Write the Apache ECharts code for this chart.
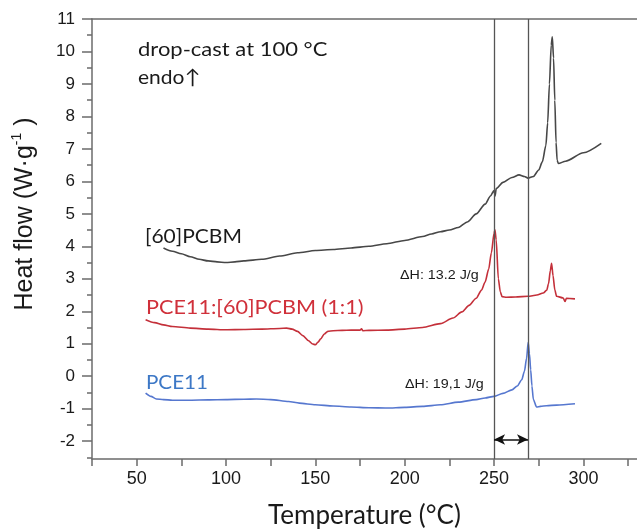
<!DOCTYPE html>
<html>
<head>
<meta charset="utf-8">
<script src="https://cdn.jsdelivr.net/npm/echarts@6/dist/echarts.min.js"></script>
<style>
  html, body { margin: 0; padding: 0; background: #fff; }
  #chart { width: 637px; height: 529px; }
</style>
</head>
<body>
<div id="chart"></div>
<script>
// tick values
var xTicks = [25, 50, 75, 100, 125, 150, 175, 200, 225, 250, 275, 300, 325];
var xLabels = [50, 100, 150, 200, 250, 300];
var yLabels = [-2, -1, 0, 1, 2, 3, 4, 5, 6, 7, 8, 9, 10, 11];
var yMinor = [-2.5, -1.5, -0.5, 0.5, 1.5, 2.5, 3.5, 4.5, 5.5, 6.5, 7.5, 8.5, 9.5, 10.5];

// [60]PCBM
var pcbmT = [65, 70, 75, 80, 85, 90, 95, 100, 105, 110, 120, 130, 140, 150, 160, 170, 180, 190, 200, 210, 215, 220, 225, 230, 235, 240, 245, 248, 250, 250.6, 251.2, 255, 260, 264, 267, 269, 272, 275, 277, 279, 280, 281, 282, 282.6, 283.3, 284, 284.7, 285.3, 286, 290, 300, 310];
var pcbmV = [3.95, 3.85, 3.77, 3.68, 3.6, 3.55, 3.52, 3.5, 3.52, 3.55, 3.6, 3.7, 3.8, 3.87, 3.9, 3.95, 4.0, 4.08, 4.18, 4.3, 4.38, 4.45, 4.5, 4.58, 4.75, 5.0, 5.3, 5.55, 5.72, 5.55, 5.78, 5.97, 6.12, 6.2, 6.15, 6.1, 6.15, 6.35, 6.6, 7.1, 7.8, 9.0, 10.2, 10.45, 9.8, 8.5, 7.2, 6.65, 6.55, 6.62, 6.88, 7.17];

// PCE11:[60]PCBM (1:1)
var blendT = [55, 60, 65, 70, 80, 90, 100, 110, 120, 130, 134, 137, 140, 143, 146, 148.5, 150, 151.5, 153, 155, 157, 160, 165, 170, 175, 175.8, 176.6, 180, 190, 200, 210, 220, 227, 232, 236, 240, 243, 245, 247, 248.5, 250, 250.5, 251.2, 252.4, 253.5, 254.5, 257, 262, 269, 274, 277.5, 279.5, 280.5, 281.5, 282.2, 283, 284, 285, 288.7, 289.7, 290.5, 295.3];
var blendV = [1.74, 1.65, 1.58, 1.53, 1.48, 1.45, 1.43, 1.44, 1.45, 1.47, 1.48, 1.45, 1.38, 1.25, 1.1, 0.99, 0.97, 1.05, 1.15, 1.3, 1.38, 1.4, 1.41, 1.42, 1.42, 1.46, 1.4, 1.41, 1.42, 1.45, 1.5, 1.62, 1.79, 1.98, 2.18, 2.4, 2.65, 2.9, 3.3, 3.8, 4.4, 4.51, 4.2, 3.0, 2.6, 2.45, 2.43, 2.44, 2.46, 2.5, 2.56, 2.65, 2.85, 3.25, 3.48, 3.1, 2.66, 2.46, 2.41, 2.3, 2.4, 2.38];

// PCE11
var pce11T = [55, 58, 61, 65, 70, 80, 90, 100, 110, 117, 125, 135, 141, 150, 160, 170, 180, 190, 200, 210, 220, 230, 240, 245, 250, 255, 260, 263, 265.5, 267, 268.2, 269.1, 269.8, 270.5, 271.2, 272, 273.8, 276, 279.4, 285, 295.3];
var pce11V = [-0.52, -0.62, -0.7, -0.72, -0.74, -0.74, -0.73, -0.72, -0.71, -0.7, -0.72, -0.78, -0.83, -0.88, -0.92, -0.95, -0.97, -0.98, -0.96, -0.93, -0.88, -0.8, -0.72, -0.67, -0.62, -0.53, -0.42, -0.3, -0.11, 0.15, 0.55, 1.04, 0.7, 0.2, -0.3, -0.72, -0.95, -0.93, -0.91, -0.89, -0.85];

// guide lines and the double arrow
var guideT = [250, 269];
var arrowY = -1.95;

function pairs(xs, ys) {
  var out = [];
  for (var i = 0; i < xs.length; i++) out.push([xs[i], ys[i]]);
  return out;
}

var chart = echarts.init(document.getElementById('chart'));
var axisColor = '#6b6b6b';
var noteFont = 'Lato';

// small helper for the free text notes
function note(x, y, text, color, size, family, sx) {
  return {
    type: 'text', x: x, y: y, scaleX: sx || 1,
    style: { text: text, fontFamily: family || noteFont, fontSize: size || 20, fill: color || '#1a1a1a', verticalAlign: 'middle' }
  };
}

var option = {
  animation: false,
  grid: { left: 92, top: 19, right: 0, bottom: 70, outerBoundsMode: 'none', containLabel: false },
  xAxis: [
    {
      type: 'value', min: 25, max: 330,
      axisLine: { show: true, onZero: false, lineStyle: { color: axisColor, width: 1.5 } },
      axisTick: { show: true, length: 7, customValues: xTicks, lineStyle: { color: axisColor, width: 1.5 } },
      axisLabel: { customValues: xLabels, margin: 11, fontFamily: 'Liberation Sans', fontSize: 18, color: '#1a1a1a' },
      splitLine: { show: false },
      name: 'Temperature (°C)', nameLocation: 'middle', nameGap: 44,
      nameTextStyle: { fontFamily: noteFont, fontSize: 26, color: '#1a1a1a' }
    },
    {
      type: 'value', min: 25, max: 330, position: 'top',
      axisLine: { show: true, onZero: false, lineStyle: { color: axisColor, width: 1.5 } },
      axisTick: { show: false }, axisLabel: { show: false }, splitLine: { show: false }
    }
  ],
  yAxis: [
    {
      type: 'value', min: -2.55, max: 11,
      axisLine: { show: true, onZero: false, lineStyle: { color: axisColor, width: 1.5 } },
      axisTick: { show: true, length: 10, customValues: yLabels, lineStyle: { color: axisColor, width: 1.5 } },
      axisLabel: { customValues: yLabels, margin: 17, fontFamily: 'Liberation Sans', fontSize: 17, color: '#1a1a1a' },
      splitLine: { show: false }
    },
    {
      type: 'value', min: -2.55, max: 11, position: 'left',
      axisLine: { show: false, onZero: false },
      axisTick: { show: true, length: 5, customValues: yMinor, lineStyle: { color: axisColor, width: 1.5 } },
      axisLabel: { show: false }, splitLine: { show: false }
    }
  ],
  series: [
    {
      name: '[60]PCBM', type: 'line', data: pairs(pcbmT, pcbmV),
      showSymbol: false, smooth: 0.25, smoothMonotone: 'x',
      lineStyle: { color: '#474747', width: 1.6 },
      markLine: {
        silent: true, symbol: 'none', label: { show: false },
        lineStyle: { color: '#555', width: 1.3, type: 'solid' },
        data: guideT.map(function (t) { return { xAxis: t }; })
      }
    },
    {
      name: 'PCE11:[60]PCBM (1:1)', type: 'line', data: pairs(blendT, blendV),
      showSymbol: false, smooth: 0.25, smoothMonotone: 'x',
      lineStyle: { color: '#c4303a', width: 1.6 }
    },
    {
      name: 'PCE11', type: 'line', data: pairs(pce11T, pce11V),
      showSymbol: false, smooth: 0.25, smoothMonotone: 'x',
      lineStyle: { color: '#5677cf', width: 1.6 },
      markLine: {
        silent: true, symbol: ['arrow', 'arrow'], symbolSize: [8, 11], label: { show: false },
        lineStyle: { color: '#111', width: 1.5, type: 'solid' },
        data: [[{ coord: [guideT[0], arrowY] }, { coord: [guideT[1], arrowY] }]]
      }
    }
  ],
  graphic: [
    note(138, 50, 'drop-cast at 100 °C', null, 20, null, 1.1),
    note(138, 78, 'endo↑', null, 20, null, 1.05),
    note(145, 237, '[60]PCBM', null, 20, null, 1.05),
    note(146, 308, 'PCE11:[60]PCBM (1:1)', '#d0303a', 20, null, 1.08),
    note(146, 383, 'PCE11', '#3d78c6', 20, null, 1.03),
    note(400, 275, 'ΔH: 13.2 J/g', null, 13, 'Liberation Sans', 1.1),
    note(405, 384, 'ΔH: 19,1 J/g', null, 13, 'Liberation Sans', 1.1),
    {
      type: 'text', x: 25, y: 214, rotation: Math.PI / 2,
      style: {
        text: '{a|Heat flow (W·g}{s|-1}{a| )}',
        align: 'center', verticalAlign: 'middle',
        rich: {
          a: { fontFamily: 'Liberation Sans', fontSize: 25, lineHeight: 29, fill: '#1a1a1a', color: '#1a1a1a' },
          s: { fontFamily: 'Liberation Sans', fontSize: 14, lineHeight: 29, verticalAlign: 'top', fill: '#1a1a1a', color: '#1a1a1a' }
        }
      }
    }
  ]
};

chart.setOption(option);
</script>
</body>
</html>
